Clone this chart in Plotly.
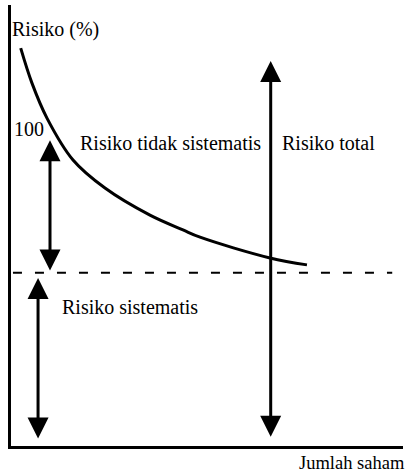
import plotly.graph_objects as go

# Kurva risiko portofolio
jumlah_saham = [0.99, 2.14, 3.67, 6.33, 9.59, 14.18, 17.55, 19.29, 26.43, 30.2]
risiko = [126.3, 115.2, 104.1, 90.8, 81.9, 73.3, 68.6, 66.3, 59.7, 57.5]

# Garis risiko sistematis
risiko_sistematis = 55
garis_x = [0.2, 38.9]

# Panah: (x, y_bawah, y_atas)
panah_tidak_sistematis = (3.98, 55.2, 97.1)
panah_sistematis = (2.76, 1.9, 53.3)
panah_total = (26.5, 2.5, 122.2)

FONT = dict(family="Liberation Serif, Times New Roman, serif", size=20, color="black")

fig = go.Figure()

fig.add_trace(go.Scatter(
    x=jumlah_saham, y=risiko, mode="lines",
    line=dict(color="black", width=3, shape="spline", smoothing=1.0),
    hoverinfo="skip",
))

fig.add_trace(go.Scatter(
    x=garis_x, y=[risiko_sistematis] * 2, mode="lines",
    line=dict(color="black", width=2, dash="9px,13px"),
    hoverinfo="skip",
))

annotations = []
for px_, y0, y1 in [panah_tidak_sistematis, panah_sistematis, panah_total]:
    annotations.append(dict(
        x=px_, y=y1, ax=px_, ay=y0, xref="x", yref="y", axref="x", ayref="y",
        text="", showarrow=True, arrowhead=2, arrowside="end+start",
        arrowsize=1.4, arrowwidth=3, arrowcolor="black", standoff=0, startstandoff=0,
    ))

labels = [
    ("Risiko (%)", 0.0, 132.2, -1),
    ("100", 0.15, 100.5, 0),
    ("Risiko tidak sistematis", 6.85, 96.3, 0),
    ("Risiko total", 27.45, 96.3, 0),
    ("Risiko sistematis", 5.0, 44.2, 0),
]
for teks, x, y, geser in labels:
    annotations.append(dict(
        x=x, y=y, xref="x", yref="y", text=teks, showarrow=False, xshift=geser,
        xanchor="left", yanchor="middle", font=FONT,
    ))

annotations.append(dict(
    x=1.01, y=-0.039, xref="paper", yref="paper", text="Jumlah saham",
    showarrow=False, xanchor="right", yanchor="middle", font=dict(FONT, size=18.5),
))

fig.update_layout(
    width=412, height=475,
    margin=dict(l=11, r=9, t=5, b=29),
    paper_bgcolor="white", plot_bgcolor="white",
    showlegend=False,
    font=FONT,
    annotations=annotations,
    xaxis=dict(range=[0, 40], showgrid=False, zeroline=False, showticklabels=False,
               ticks="", showline=True, linewidth=3, linecolor="black"),
    yaxis=dict(range=[0, 140], showgrid=False, zeroline=False, showticklabels=False,
               ticks="", showline=True, linewidth=3, linecolor="black"),
)

fig.write_html("out.html", config={"displayModeBar": False},
               post_script="document.body.style.margin = '0';")
